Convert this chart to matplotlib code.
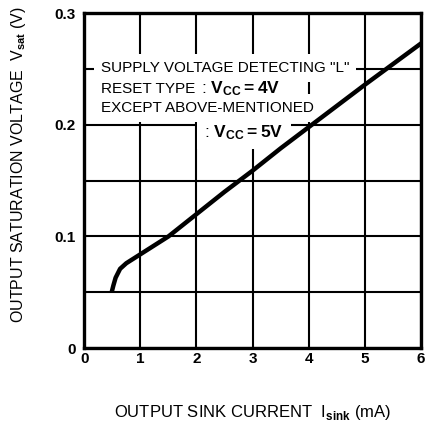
import numpy as np
import matplotlib
matplotlib.use("Agg")
import matplotlib.pyplot as plt

plt.rcParams["font.family"] = ["Liberation Sans", "DejaVu Sans"]
plt.rcParams["mathtext.fontset"] = "custom"
plt.rcParams["mathtext.rm"] = "Liberation Sans"
plt.rcParams["mathtext.bf"] = "Liberation Sans:bold"

# ── data ─────────────────────────────────────────────────────
i_sink = [0.49, 0.52, 0.56, 0.64, 0.75, 1.0, 1.5, 2.0, 2.5, 3.0, 3.5, 4.0, 5.0, 6.0]
v_sat  = [0.050, 0.056, 0.063, 0.071, 0.076, 0.084, 0.100, 0.120, 0.140,
          0.159, 0.179, 0.198, 0.236, 0.273]

x_ticks = [0, 1, 2, 3, 4, 5, 6]
y_ticks = [0, 0.1, 0.2, 0.3]
y_tick_labels = ["0", "0.1", "0.2", "0.3"]
y_minor = [0.05, 0.15, 0.25]

fig = plt.figure(figsize=(4.25, 4.25), dpi=100)
ax = fig.add_axes([0.198, 0.181, 0.793, 0.788])

ax.set_xlim(0, 6)
ax.set_ylim(0, 0.3)
ax.set_xticks(x_ticks)
ax.set_xticklabels([str(v) for v in x_ticks], fontsize=11, fontweight="bold")
ax.set_yticks(y_ticks)
ax.set_yticklabels(y_tick_labels, fontsize=11, fontweight="bold")
ax.set_yticks(y_minor, minor=True)
ax.tick_params(which="both", length=0)
ax.tick_params(axis="y", pad=6)
ax.tick_params(axis="x", pad=3)
ax.grid(True, which="both", color="black", lw=1.5, zorder=1)
ax.set_axisbelow(True)
for s in ax.spines.values():
    s.set_linewidth(2.4)

ax.plot(i_sink, v_sat, color="black", lw=3.2, solid_capstyle="butt", zorder=5)


# ── annotation: white mask first (hides grid), text on top ───
def note(x, y, s, size=11):
    ax.text(x, y, s, fontsize=size, va="baseline", ha="left", color="white",
            bbox=dict(facecolor="white", edgecolor="none", pad=5), zorder=2)
    ax.text(x, y, s, fontsize=size, va="baseline", ha="left", zorder=4)


note(0.30, 0.2472, 'SUPPLY VOLTAGE DETECTING "L"')
note(0.30, 0.2284, "RESET TYPE")
note(2.08, 0.2284, r": $\mathbf{V_{CC}=4V}$", 12.5)
note(0.30, 0.2113, "EXCEPT ABOVE-MENTIONED")
note(2.14, 0.1890, r": $\mathbf{V_{CC}=5V}$", 12.5)

ax.set_ylabel(r"OUTPUT SATURATION VOLTAGE  V$_{\mathbf{sat}}$ (V)",
              fontsize=11.5)
ax.yaxis.set_label_coords(-0.166, 0.546)
ax.set_xlabel(r"OUTPUT SINK CURRENT  I$_{\mathbf{sink}}$ (mA)",
              fontsize=12)
ax.xaxis.set_label_coords(0.50, -0.165)

plt.savefig("out.png", dpi=100)
plt.close()
